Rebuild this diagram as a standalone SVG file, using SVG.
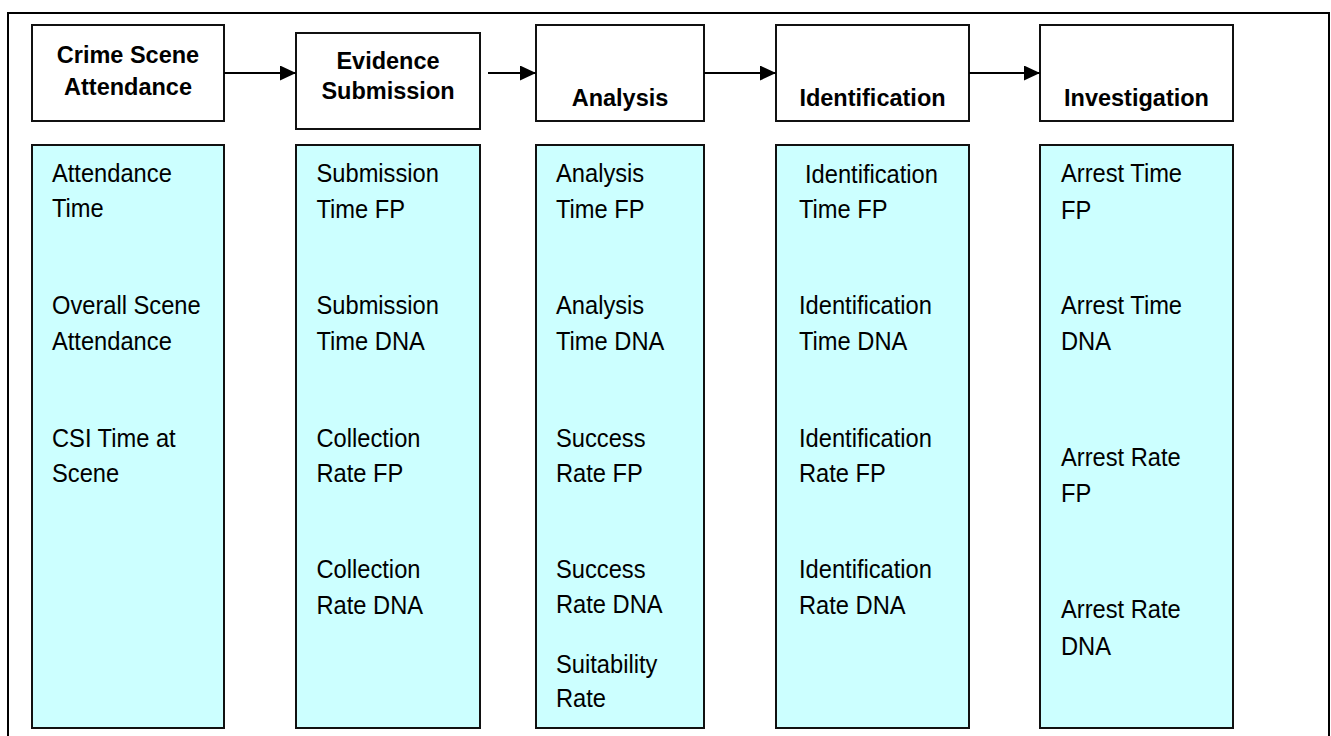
<svg xmlns="http://www.w3.org/2000/svg" width="1331" height="736" viewBox="0 0 1331 736">
  <style>
    .frame { fill: none; stroke: #000; stroke-width: 2; }
    .stage { fill: #fff; stroke: #111; stroke-width: 2; }
    .metrics { fill: #ccffff; stroke: #111; stroke-width: 2; }
    .head { font-family: "Liberation Sans", Arial, sans-serif; font-weight: bold; font-size: 23.5px; fill: #000; text-anchor: middle; }
    .item { font-family: "Liberation Sans", Arial, sans-serif; font-size: 23.7px; fill: #000; }
    .flow { stroke: #000; stroke-width: 2; fill: none; marker-end: url(#arrow); }
  </style>
  <defs>
    <marker id="arrow" markerUnits="userSpaceOnUse" markerWidth="16" markerHeight="15" refX="16" refY="7.5" orient="auto">
      <path d="M0,0 L16,7.5 L0,15 Z" fill="#000"/>
    </marker>
  </defs>

  <rect width="1331" height="736" fill="#fff"/>
  <!-- outer frame, open at the bottom edge -->
  <path class="frame" d="M8,740 V13 H1329 V740"/>

  <!-- stage headers -->
  <g id="stage-attendance">
    <rect class="stage" x="32" y="25" width="192" height="96"/>
    <text class="head" x="128" y="63">Crime Scene</text>
    <text class="head" x="128" y="95">Attendance</text>
  </g>
  <g id="stage-submission">
    <rect class="stage" x="296" y="33" width="184" height="96"/>
    <text class="head" x="388" y="69">Evidence</text>
    <text class="head" x="388" y="99">Submission</text>
  </g>
  <g id="stage-analysis">
    <rect class="stage" x="536" y="25" width="168" height="96"/>
    <text class="head" x="620" y="106">Analysis</text>
  </g>
  <g id="stage-identification">
    <rect class="stage" x="776" y="25" width="193" height="96"/>
    <text class="head" x="872.5" y="106">Identification</text>
  </g>
  <g id="stage-investigation">
    <rect class="stage" x="1040" y="25" width="193" height="96"/>
    <text class="head" x="1136.5" y="106">Investigation</text>
  </g>

  <!-- flow between stages -->
  <g id="connectors">
    <line class="flow" x1="224" y1="73" x2="296" y2="73"/>
    <line class="flow" x1="488" y1="73" x2="536" y2="73"/>
    <line class="flow" x1="704" y1="73" x2="776" y2="73"/>
    <line class="flow" x1="969" y1="73" x2="1040" y2="73"/>
  </g>

  <!-- measure columns (text slightly stretched vertically) -->
  <g id="metrics-attendance">
    <rect class="metrics" x="32" y="145" width="192" height="583"/>
    <text class="item" transform="translate(52,182) scale(1,1.09)">Attendance</text>
    <text class="item" transform="translate(52,217) scale(1,1.09)">Time</text>
    <text class="item" transform="translate(52,314) scale(1,1.09)">Overall Scene</text>
    <text class="item" transform="translate(52,350) scale(1,1.09)">Attendance</text>
    <text class="item" transform="translate(52,447) scale(1,1.09)">CSI Time at</text>
    <text class="item" transform="translate(52,482) scale(1,1.09)">Scene</text>
  </g>
  <g id="metrics-submission">
    <rect class="metrics" x="296" y="145" width="184" height="583"/>
    <text class="item" transform="translate(316.5,182) scale(1,1.09)">Submission</text>
    <text class="item" transform="translate(316.5,218) scale(1,1.09)">Time FP</text>
    <text class="item" transform="translate(316.5,314) scale(1,1.09)">Submission</text>
    <text class="item" transform="translate(316.5,350) scale(1,1.09)">Time DNA</text>
    <text class="item" transform="translate(316.5,447) scale(1,1.09)">Collection</text>
    <text class="item" transform="translate(316.5,482) scale(1,1.09)">Rate FP</text>
    <text class="item" transform="translate(316.5,578) scale(1,1.09)">Collection</text>
    <text class="item" transform="translate(316.5,614) scale(1,1.09)">Rate DNA</text>
  </g>
  <g id="metrics-analysis">
    <rect class="metrics" x="536" y="145" width="168" height="583"/>
    <text class="item" transform="translate(556,182) scale(1,1.09)">Analysis</text>
    <text class="item" transform="translate(556,218) scale(1,1.09)">Time FP</text>
    <text class="item" transform="translate(556,314) scale(1,1.09)">Analysis</text>
    <text class="item" transform="translate(556,350) scale(1,1.09)">Time DNA</text>
    <text class="item" transform="translate(556,447) scale(1,1.09)">Success</text>
    <text class="item" transform="translate(556,482) scale(1,1.09)">Rate FP</text>
    <text class="item" transform="translate(556,578) scale(1,1.09)">Success</text>
    <text class="item" transform="translate(556,613) scale(1,1.09)">Rate DNA</text>
    <text class="item" transform="translate(556,673) scale(1,1.09)">Suitability</text>
    <text class="item" transform="translate(556,707) scale(1,1.09)">Rate</text>
  </g>
  <g id="metrics-identification">
    <rect class="metrics" x="776" y="145" width="193" height="583"/>
    <text class="item" transform="translate(805,183) scale(1,1.09)">Identification</text>
    <text class="item" transform="translate(799,218) scale(1,1.09)">Time FP</text>
    <text class="item" transform="translate(799,314) scale(1,1.09)">Identification</text>
    <text class="item" transform="translate(799,350) scale(1,1.09)">Time DNA</text>
    <text class="item" transform="translate(799,447) scale(1,1.09)">Identification</text>
    <text class="item" transform="translate(799,482) scale(1,1.09)">Rate FP</text>
    <text class="item" transform="translate(799,578) scale(1,1.09)">Identification</text>
    <text class="item" transform="translate(799,614) scale(1,1.09)">Rate DNA</text>
  </g>
  <g id="metrics-investigation">
    <rect class="metrics" x="1040" y="145" width="193" height="583"/>
    <text class="item" transform="translate(1061,182) scale(1,1.09)">Arrest Time</text>
    <text class="item" transform="translate(1061,219) scale(1,1.09)">FP</text>
    <text class="item" transform="translate(1061,314) scale(1,1.09)">Arrest Time</text>
    <text class="item" transform="translate(1061,350) scale(1,1.09)">DNA</text>
    <text class="item" transform="translate(1061,466) scale(1,1.09)">Arrest Rate</text>
    <text class="item" transform="translate(1061,502) scale(1,1.09)">FP</text>
    <text class="item" transform="translate(1061,618) scale(1,1.09)">Arrest Rate</text>
    <text class="item" transform="translate(1061,655) scale(1,1.09)">DNA</text>
  </g>
</svg>
